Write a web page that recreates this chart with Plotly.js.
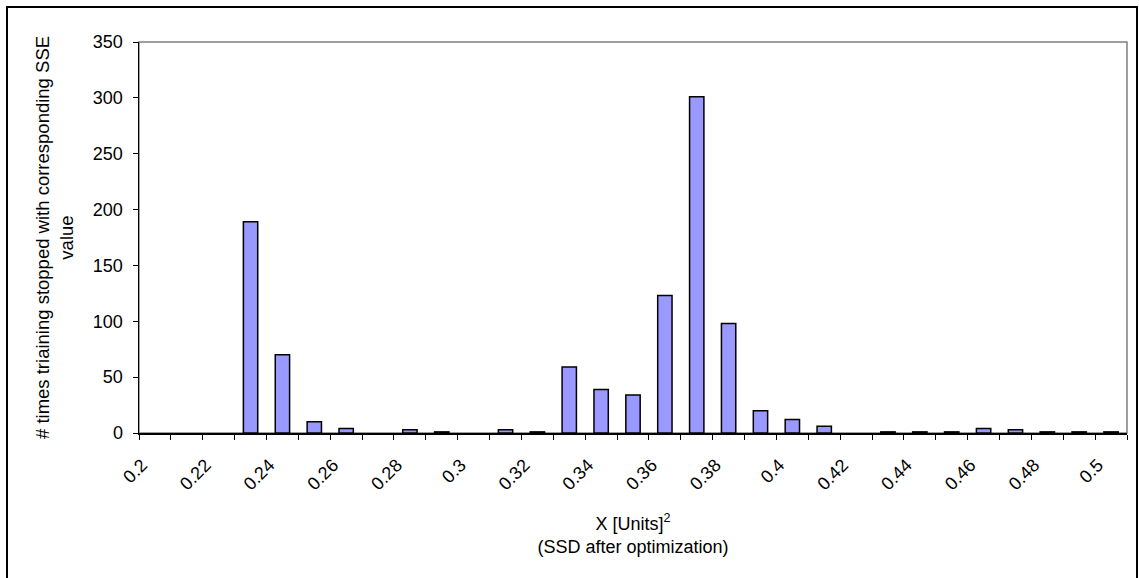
<!DOCTYPE html>
<html>
<head>
<meta charset="utf-8">
<script src="https://cdn.plot.ly/plotly-3.0.1.min.js"></script>
<style>
  html, body { margin: 0; padding: 0; background: #fff; }
  #wrap { position: relative; width: 1139px; height: 578px; overflow: hidden; }
  #chart { width: 1139px; height: 578px; }
  #frame { position: absolute; left: 6px; top: 6px; width: 1132px; height: 580px;
           border: 2px solid #000; box-sizing: border-box; pointer-events: none; }
</style>
</head>
<body>
<div id="wrap">
  <div id="chart"></div>
  <div id="frame"></div>
</div>
<script>
// SSD values (category centres)
const categories = [0.20, 0.21, 0.22, 0.23, 0.24, 0.25, 0.26, 0.27, 0.28, 0.29,
                    0.30, 0.31, 0.32, 0.33, 0.34, 0.35, 0.36, 0.37, 0.38, 0.39,
                    0.40, 0.41, 0.42, 0.43, 0.44, 0.45, 0.46, 0.47, 0.48, 0.49, 0.50];
// number of times training stopped with the corresponding SSE value
const counts = [0, 0, 0, 189, 70, 10, 4, 0, 3, 1,
                0, 3, 1, 59, 39, 34, 123, 301, 98, 20,
                12, 6, 0, 1, 1, 1, 4, 3, 1, 1, 1];
// labelled ticks (every other category)
const tickLabels = ["0.2", "0.22", "0.24", "0.26", "0.28", "0.3", "0.32", "0.34",
                    "0.36", "0.38", "0.4", "0.42", "0.44", "0.46", "0.48", "0.5"];
const yTicks = [0, 50, 100, 150, 200, 250, 300, 350];

const step = 0.01;
const tickVals = tickLabels.map(Number);
const boundaries = categories.map(c => c - step / 2).concat([categories[categories.length - 1] + step / 2]);

const FONT = "'Liberation Sans', Arial, sans-serif";
const FS = 18;

const trace = {
  type: 'bar',
  x: categories,
  // empty categories draw no bar at all
  y: counts.map(v => (v === 0 ? null : v)),
  marker: { color: '#9999FF', line: { color: '#000000', width: 1.5 } },
  hoverinfo: 'x+y'
};

const layout = {
  width: 1139, height: 578,
  margin: { l: 139, r: 12, t: 42, b: 145, pad: 0 },
  paper_bgcolor: '#ffffff',
  plot_bgcolor: '#ffffff',
  showlegend: false,
  bargap: 0.55,
  font: { family: FONT, size: FS, color: '#000' },
  xaxis: {
    type: 'linear',
    range: [boundaries[0], boundaries[boundaries.length - 1]],
    tickmode: 'array',
    tickvals: tickVals,
    ticktext: tickLabels,
    tickangle: -45,
    ticks: '',
    ticklabelshift: -13,
    ticklabelstandoff: 13,
    showgrid: false,
    zeroline: false,
    showline: true, linecolor: '#000', linewidth: 1.5,
    tickfont: { family: FONT, size: FS, color: '#000' },
    minor: { tickmode: 'array', tickvals: boundaries, ticks: 'outside', ticklen: 5,
             tickwidth: 1, tickcolor: '#000', showgrid: false },
    title: { text: 'X [Units]<sup>2</sup><br>(SSD after optimization)',
             font: { family: FONT, size: FS, color: '#000' }, standoff: 24 },
    automargin: false,
    fixedrange: true
  },
  yaxis: {
    range: [0, 350],
    tickmode: 'array',
    tickvals: yTicks,
    ticks: 'outside', ticklen: 5, tickwidth: 1, tickcolor: '#000',
    ticklabelstandoff: 6,
    showgrid: false,
    zeroline: false,
    showline: true, linecolor: '#000', linewidth: 1.5,
    tickfont: { family: FONT, size: FS, color: '#000' },
    title: { text: '# times triaining stopped with corresponding SSE<br>value',
             font: { family: FONT, size: 18.5, color: '#000' }, standoff: 14 },
    automargin: false,
    fixedrange: true
  },
  shapes: [{
    type: 'rect', xref: 'paper', yref: 'paper', x0: 0, x1: 1, y0: 0, y1: 1,
    line: { color: '#808080', width: 1.5 }, layer: 'below'
  }]
};

Plotly.newPlot('chart', [trace], layout, { displayModeBar: false, staticPlot: true });
</script>
</body>
</html>
